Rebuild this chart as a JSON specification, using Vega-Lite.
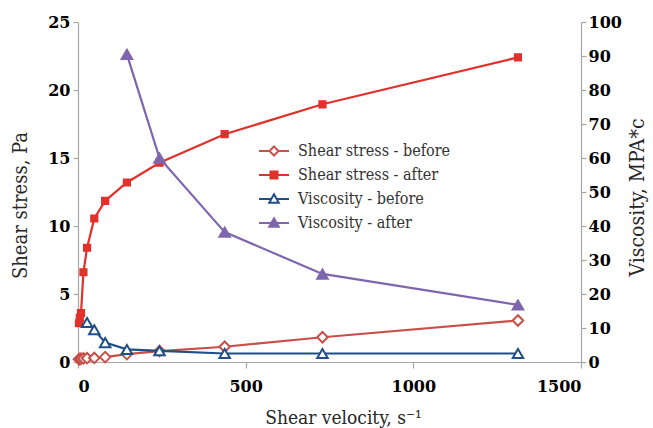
{
  "$schema": "https://vega.github.io/schema/vega-lite/v6.json",
  "width": 503,
  "height": 340,
  "autosize": {"type": "none"},
  "padding": {"left": 78, "top": 22, "right": 72, "bottom": 66},
  "background": "white",
  "config": {
    "view": {"stroke": null},
    "font": "DejaVu Serif",
    "axis": {
      "grid": false,
      "domainColor": "#a6a6a6",
      "domainWidth": 1.2,
      "tickColor": "#a6a6a6",
      "tickWidth": 1.2,
      "labelFont": "DejaVu Serif",
      "labelFontWeight": "bold",
      "labelFontSize": 16,
      "labelColor": "#000000",
      "titleFont": "DejaVu Serif Condensed",
      "titleFontWeight": "normal",
      "titleFontSize": 20,
      "titleColor": "#262626"
    },
    "legend": {
      "labelFont": "DejaVu Serif Condensed",
      "labelFontSize": 16,
      "labelColor": "#333333",
      "labelLimit": 300,
      "symbolSize": 100,
      "symbolStrokeWidth": 2,
      "symbolOpacity": 1,
      "rowPadding": 7,
      "labelOffset": 16
    }
  },
  "data": {
    "values": [
      {"series": "Shear stress - before", "axis": "stress", "rate": 3, "value": 0.2},
      {"series": "Shear stress - before", "axis": "stress", "rate": 5.4, "value": 0.22},
      {"series": "Shear stress - before", "axis": "stress", "rate": 9, "value": 0.24},
      {"series": "Shear stress - before", "axis": "stress", "rate": 16.2, "value": 0.26},
      {"series": "Shear stress - before", "axis": "stress", "rate": 27, "value": 0.28},
      {"series": "Shear stress - before", "axis": "stress", "rate": 48.6, "value": 0.3},
      {"series": "Shear stress - before", "axis": "stress", "rate": 81, "value": 0.36},
      {"series": "Shear stress - before", "axis": "stress", "rate": 145.8, "value": 0.58},
      {"series": "Shear stress - before", "axis": "stress", "rate": 243, "value": 0.8},
      {"series": "Shear stress - before", "axis": "stress", "rate": 437.4, "value": 1.12},
      {"series": "Shear stress - before", "axis": "stress", "rate": 729, "value": 1.82},
      {"series": "Shear stress - before", "axis": "stress", "rate": 1312, "value": 3.05},

      {"series": "Shear stress - after", "axis": "stress", "rate": 3, "value": 2.85},
      {"series": "Shear stress - after", "axis": "stress", "rate": 5.4, "value": 3.25},
      {"series": "Shear stress - after", "axis": "stress", "rate": 9, "value": 3.6},
      {"series": "Shear stress - after", "axis": "stress", "rate": 16.2, "value": 6.6},
      {"series": "Shear stress - after", "axis": "stress", "rate": 27, "value": 8.4},
      {"series": "Shear stress - after", "axis": "stress", "rate": 48.6, "value": 10.55},
      {"series": "Shear stress - after", "axis": "stress", "rate": 81, "value": 11.85},
      {"series": "Shear stress - after", "axis": "stress", "rate": 145.8, "value": 13.2},
      {"series": "Shear stress - after", "axis": "stress", "rate": 243, "value": 14.65},
      {"series": "Shear stress - after", "axis": "stress", "rate": 437.4, "value": 16.75},
      {"series": "Shear stress - after", "axis": "stress", "rate": 729, "value": 18.95},
      {"series": "Shear stress - after", "axis": "stress", "rate": 1312, "value": 22.4},

      {"series": "Viscosity - before", "axis": "visc", "rate": 27, "value": 11.6},
      {"series": "Viscosity - before", "axis": "visc", "rate": 48.6, "value": 9.5},
      {"series": "Viscosity - before", "axis": "visc", "rate": 81, "value": 5.7},
      {"series": "Viscosity - before", "axis": "visc", "rate": 145.8, "value": 3.7},
      {"series": "Viscosity - before", "axis": "visc", "rate": 243, "value": 3.3},
      {"series": "Viscosity - before", "axis": "visc", "rate": 437.4, "value": 2.5},
      {"series": "Viscosity - before", "axis": "visc", "rate": 729, "value": 2.5},
      {"series": "Viscosity - before", "axis": "visc", "rate": 1312, "value": 2.5},

      {"series": "Viscosity - after", "axis": "visc", "rate": 145.8, "value": 90.5},
      {"series": "Viscosity - after", "axis": "visc", "rate": 243, "value": 60},
      {"series": "Viscosity - after", "axis": "visc", "rate": 437.4, "value": 38.2},
      {"series": "Viscosity - after", "axis": "visc", "rate": 729, "value": 25.9},
      {"series": "Viscosity - after", "axis": "visc", "rate": 1312, "value": 16.8}
    ]
  },
  "encoding": {
    "x": {
      "field": "rate",
      "type": "quantitative",
      "scale": {"domain": [0, 1500], "nice": false, "zero": true},
      "axis": {
        "orient": "bottom",
        "values": [0, 500, 1000, 1500],
        "format": "d",
        "tickSize": 6,
        "labelPadding": 10,
        "title": "Shear velocity, s⁻¹",
        "titleFontSize": 19,
        "titleAnchor": "start",
        "titleAlign": "center",
        "titleX": 265,
        "titleY": 61,
        "titleBaseline": "alphabetic"
      }
    },
    "stroke": {
      "field": "series",
      "type": "nominal",
      "scale": {
        "domain": ["Shear stress - before", "Shear stress - after", "Viscosity - before", "Viscosity - after"],
        "range": ["#C8504B", "#E0312B", "#1F4E89", "#7E65AE"]
      },
      "legend": {"orient": "none", "legendX": 188, "legendY": 121, "title": null}
    }
  },
  "layer": [
    {
      "transform": [{"filter": "datum.axis === 'stress'"}],
      "encoding": {
        "y": {
          "field": "value",
          "type": "quantitative",
          "scale": {"domain": [0, 25], "nice": false},
          "axis": {
            "orient": "left",
            "values": [0, 5, 10, 15, 20, 25],
            "tickSize": 5,
            "labelPadding": 3,
            "title": "Shear stress, Pa",
            "titleAngle": -90,
            "titleAlign": "center",
            "titleBaseline": "middle",
            "titleX": -58,
            "titleY": 183
          }
        }
      },
      "layer": [
        {"mark": {"type": "line", "strokeWidth": 2.2}},
        {
          "transform": [{"filter": "datum.series === 'Shear stress - before'"}],
          "mark": {"type": "point", "shape": "diamond", "filled": true, "fill": "#ffffff", "size": 110, "opacity": 1, "strokeWidth": 2}
        },
        {
          "transform": [{"filter": "datum.series === 'Shear stress - after'"}],
          "mark": {"type": "point", "shape": "square", "filled": true, "fill": "#E0312B", "size": 45, "opacity": 1, "strokeWidth": 1.5}
        },
        {
          "transform": [{"filter": "false"}],
          "mark": {"type": "point", "filled": true, "opacity": 1, "strokeWidth": 2},
          "encoding": {
            "shape": {
              "field": "series",
              "type": "nominal",
              "scale": {
                "domain": ["Shear stress - before", "Shear stress - after", "Viscosity - before", "Viscosity - after"],
                "range": [
                  "M-3,0H-0.9M0.9,0H3M0,-0.9L0.9,0L0,0.9L-0.9,0Z",
                  "M-3,0H3M-0.7,-0.7H0.7V0.7H-0.7Z",
                  "M-3,0H-0.5M0.5,0H3M0,-0.95L0.95,0.75H-0.95Z",
                  "M-3,0H3M0,-0.95L0.95,0.75H-0.95Z"
                ]
              },
              "legend": {"orient": "none", "legendX": 188, "legendY": 121, "title": null}
            },
            "fill": {
              "field": "series",
              "type": "nominal",
              "scale": {
                "domain": ["Shear stress - before", "Shear stress - after", "Viscosity - before", "Viscosity - after"],
                "range": ["#ffffff", "#E0312B", "#ffffff", "#7E65AE"]
              },
              "legend": {"orient": "none", "legendX": 188, "legendY": 121, "title": null}
            }
          }
        }
      ]
    },
    {
      "transform": [{"filter": "datum.axis === 'visc'"}],
      "encoding": {
        "y": {
          "field": "value",
          "type": "quantitative",
          "scale": {"domain": [0, 100], "nice": false},
          "axis": {
            "orient": "right",
            "values": [0, 10, 20, 30, 40, 50, 60, 70, 80, 90, 100],
            "tickSize": 5,
            "labelPadding": 2,
            "title": "Viscosity, MPA*c",
            "titleFontSize": 21,
            "titleAngle": -90,
            "titleAlign": "center",
            "titleBaseline": "middle",
            "titleX": 56,
            "titleY": 175
          }
        }
      },
      "layer": [
        {"mark": {"type": "line", "strokeWidth": 2.2}},
        {
          "transform": [{"filter": "datum.series === 'Viscosity - before'"}],
          "mark": {"type": "point", "shape": "triangle-up", "filled": true, "fill": "#ffffff", "size": 110, "opacity": 1, "strokeWidth": 2}
        },
        {
          "transform": [{"filter": "datum.series === 'Viscosity - after'"}],
          "mark": {"type": "point", "shape": "triangle-up", "filled": true, "fill": "#7E65AE", "size": 130, "opacity": 1, "strokeWidth": 1.5}
        }
      ]
    }
  ],
  "resolve": {"scale": {"y": "independent"}}
}
